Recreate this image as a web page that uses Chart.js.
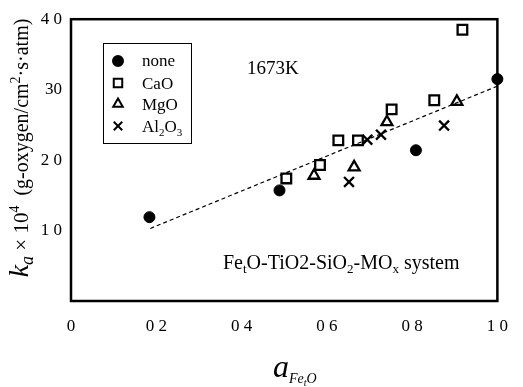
<!DOCTYPE html>
<html>
<head>
<meta charset="UTF-8">
<title>ka vs aFetO</title>
<script src="https://cdn.jsdelivr.net/npm/chart.js"></script>
<style>
  body { margin: 0; background: #fff; }
  #chart { display: block; }
</style>
</head>
<body>
<canvas id="chart" width="523" height="387"></canvas>
<script>
// data
const noneX = [0.184, 0.489, 0.809, 1.0];
const noneY = [11.9, 15.7, 21.4, 31.5];
const caoX = [0.505, 0.584, 0.627, 0.673, 0.752, 0.852, 0.918];
const caoY = [17.4, 19.3, 22.8, 22.8, 27.2, 28.5, 38.5];
const mgoX = [0.570, 0.664, 0.741, 0.905];
const mgoY = [17.8, 19.0, 25.4, 28.3];
const alX = [0.652, 0.695, 0.727, 0.875];
const alY = [16.9, 22.9, 23.6, 24.9];
const fitX = [0.186, 1.0];
const fitY = [10.3, 30.5];

const xTickLabels = ['0', '0 2', '0 4', '0 6', '0 8', '1 0'];
const yTickLabels = ['', '1 0', '2 0', '30', '4 0'];

const SERIF = '"Liberation Serif", "Times New Roman", serif';

function pts(xs, ys) {
  return xs.map((x, i) => ({ x: x, y: ys[i] }));
}

// draw a row of text pieces (sub/superscripts) one after another
function drawRuns(ctx, x, y, runs) {
  ctx.textBaseline = 'alphabetic';
  ctx.textAlign = 'left';
  runs.forEach(r => {
    ctx.font = r.font;
    ctx.fillText(r.t, x, y + (r.dy || 0));
    x += ctx.measureText(r.t).width;
  });
  return x;
}
function runsWidth(ctx, runs) {
  let w = 0;
  runs.forEach(r => { ctx.font = r.font; w += ctx.measureText(r.t).width; });
  return w;
}

const extras = {
  id: 'extras',
  beforeDatasetsDraw(chart) {
    const ctx = chart.ctx;
    const a = chart.chartArea;
    ctx.save();
    ctx.strokeStyle = '#000';
    ctx.lineWidth = 2.5;
    ctx.strokeRect(a.left, a.top, a.right - a.left, a.bottom - a.top);
    ctx.restore();
  },
  afterDatasetsDraw(chart) {
    const ctx = chart.ctx;
    ctx.save();
    ctx.fillStyle = '#000';
    ctx.strokeStyle = '#000';

    // legend box
    ctx.lineWidth = 1;
    ctx.strokeRect(103.5, 43.5, 88, 100);
    const rows = [61, 83, 104, 126];
    const styles = [
      { pointStyle: 'circle', radius: 5, fill: '#000' },
      { pointStyle: 'rect', radius: 6, fill: '#fff' },
      { pointStyle: 'triangle', radius: 5.5, fill: '#fff' },
      { pointStyle: 'crossRot', radius: 6, fill: '#fff' }
    ];
    styles.forEach((s, i) => {
      ctx.fillStyle = s.fill;
      ctx.strokeStyle = '#000';
      ctx.lineWidth = 2;
      Chart.helpers.drawPoint(ctx, { pointStyle: s.pointStyle, radius: s.radius, rotation: 0, borderWidth: 2 }, 118, rows[i]);
    });
    ctx.fillStyle = '#000';
    const f17 = '17px ' + SERIF;
    const f11 = '11px ' + SERIF;
    drawRuns(ctx, 142, rows[0] + 5, [{ t: 'none', font: f17 }]);
    drawRuns(ctx, 142, rows[1] + 6, [{ t: 'CaO', font: f17 }]);
    drawRuns(ctx, 142, rows[2] + 6, [{ t: 'MgO', font: f17 }]);
    drawRuns(ctx, 142, rows[3] + 6, [
      { t: 'Al', font: f17 }, { t: '2', font: f11, dy: 4 },
      { t: 'O', font: f17 }, { t: '3', font: f11, dy: 4 }
    ]);

    // temperature
    drawRuns(ctx, 247, 74, [{ t: '1673K', font: '19px ' + SERIF }]);

    // system label
    const f20 = '20px ' + SERIF;
    const f13 = '13px ' + SERIF;
    drawRuns(ctx, 223, 269, [
      { t: 'Fe', font: f20 }, { t: 't', font: f13, dy: 4 },
      { t: 'O-TiO2-SiO', font: f20 }, { t: '2', font: f13, dy: 4 },
      { t: '-MO', font: f20 }, { t: 'x', font: f13, dy: 4 },
      { t: ' system', font: f20 }
    ]);

    // y axis title, rotated
    const yRuns = [
      { t: 'k', font: 'italic 28px ' + SERIF },
      { t: 'a', font: 'italic 18px ' + SERIF, dy: 5 },
      { t: ' \u00d7 10', font: '21px ' + SERIF },
      { t: '4', font: '14px ' + SERIF, dy: -9 },
      { t: '  (g-oxygen/cm', font: '20px ' + SERIF },
      { t: '2', font: '14px ' + SERIF, dy: -8 },
      { t: '\u00b7s\u00b7atm)', font: '20px ' + SERIF }
    ];
    const yw = runsWidth(ctx, yRuns);
    ctx.save();
    ctx.translate(28, 148);
    ctx.rotate(-Math.PI / 2);
    drawRuns(ctx, -yw / 2, 0, yRuns);
    ctx.restore();

    // x axis title
    drawRuns(ctx, 273, 377, [
      { t: 'a', font: 'italic 32px ' + SERIF },
      { t: 'Fe', font: 'italic 14px ' + SERIF, dy: 6 },
      { t: 't', font: 'italic 10px ' + SERIF, dy: 9 },
      { t: 'O', font: 'italic 14px ' + SERIF, dy: 6 }
    ]);
    ctx.restore();
  }
};

const ctx = document.getElementById('chart').getContext('2d');
new Chart(ctx, {
  type: 'scatter',
  data: {
    datasets: [
      {
        label: 'fit', type: 'line', data: pts(fitX, fitY),
        borderColor: '#000', borderWidth: 1.2, borderDash: [4, 3],
        pointRadius: 0, fill: false, clip: false
      },
      {
        label: 'none', data: pts(noneX, noneY), pointStyle: 'circle', pointRadius: 5.5,
        backgroundColor: '#000', borderColor: '#000', borderWidth: 1, clip: false
      },
      {
        label: 'CaO', data: pts(caoX, caoY), pointStyle: 'rect', pointRadius: 6.8,
        backgroundColor: '#fff', borderColor: '#000', borderWidth: 2.3, clip: false
      },
      {
        label: 'MgO', data: pts(mgoX, mgoY), pointStyle: 'triangle', pointRadius: 6.3,
        backgroundColor: '#fff', borderColor: '#000', borderWidth: 2.3, clip: false
      },
      {
        label: 'Al2O3', data: pts(alX, alY), pointStyle: 'crossRot', pointRadius: 7,
        backgroundColor: '#fff', borderColor: '#000', borderWidth: 2.3, clip: false
      }
    ]
  },
  options: {
    responsive: false,
    animation: false,
    devicePixelRatio: 1,
    layout: { padding: { top: 13, right: 12, left: 0, bottom: 0 } },
    plugins: { legend: { display: false }, tooltip: { enabled: false } },
    scales: {
      x: {
        type: 'linear', min: 0, max: 1,
        grid: { display: false, drawTicks: false },
        border: { display: false },
        ticks: {
          stepSize: 0.2, padding: 15, color: '#000', maxRotation: 0,
          font: { family: SERIF, size: 17 },
          callback: (v, i) => xTickLabels[i]
        },
        afterFit: s => { s.height = 86; }
      },
      y: {
        type: 'linear', min: 0, max: 40,
        grid: { display: false, drawTicks: false },
        border: { display: false },
        ticks: {
          stepSize: 10, padding: 9, color: '#000',
          font: { family: SERIF, size: 17 },
          callback: (v, i) => yTickLabels[i]
        },
        afterFit: s => { s.width = 71; }
      }
    }
  },
  plugins: [extras]
});
</script>
</body>
</html>
